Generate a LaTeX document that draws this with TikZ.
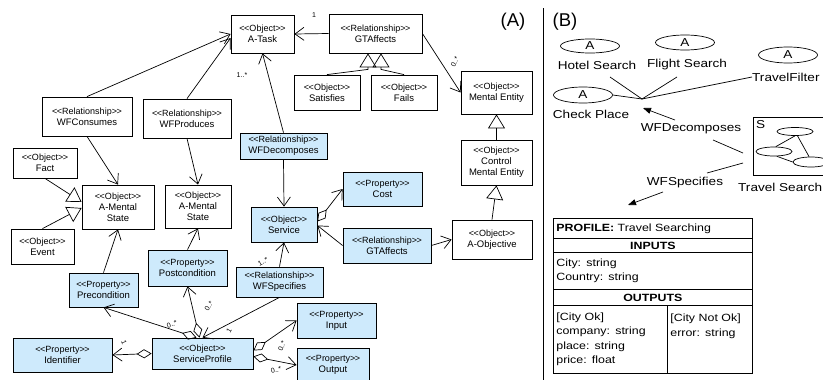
\documentclass[tikz,border=0pt]{standalone}
\usepackage{fontspec}
\setmainfont{Liberation Sans}
\newfontfamily\wfont[FakeStretch=1.18]{Liberation Sans}
\usetikzlibrary{arrows.meta,calc,shapes.geometric}

\definecolor{pfill}{RGB}{206,234,252}

% stereotype line of a UML class box
\newcommand{\stereo}[1]{{\fontsize{9}{10}\selectfont<\kern-.3pt<#1>\kern-.3pt>}}

\tikzset{
  x=1pt, y=-1pt,
  cls/.style={draw, line width=0.8pt, inner sep=0pt, align=center,
              font=\fontsize{9.5}{11}\selectfont},
  prop/.style={cls, fill=pfill},
  nav/.style={-{Straight Barb[length=9pt,width=13pt]}, line width=0.7pt},
  gen/.style={-{Triangle[open,length=14pt,width=17pt]}, line width=0.7pt},
  agg/.style={{Diamond[open,length=15pt,width=9pt]}-{Straight Barb[length=9pt,width=13pt]}, line width=0.7pt},
  mult/.style={font=\fontsize{7}{8}\selectfont, inner sep=0pt},
  title/.style={font=\fontsize{18.5}{20}\selectfont, inner sep=0pt},
  blab/.style={font=\wfont\fontsize{11.5}{13}\selectfont, inner sep=0pt},
  bell/.style={ellipse, draw, line width=0.7pt, inner sep=0pt, minimum width=59pt,
               font=\wfont\fontsize{11.5}{13}\selectfont},
  sell/.style={ellipse, draw, line width=0.7pt, inner sep=0pt, minimum width=36pt, minimum height=8pt},
  farrow/.style={-{Triangle[length=8pt,width=6pt]}, line width=0.7pt},
  cell/.style={draw, line width=0.8pt, anchor=north west, inner ysep=0pt, inner xsep=3pt,
               align=left, font=\wfont\fontsize{10.5}{14.3}\selectfont},
}

\begin{document}
\begin{tikzpicture}
\useasboundingbox (0,0) rectangle (823,380);

% ---------------- panel A: the UML model ----------------
\node[title] (ta) at (513,22) {(A)};
\draw[line width=0.8pt] (543,8) -- (543,380);

\node[cls, minimum width=63pt, minimum height=38pt] (atask) at (262.5,34) {\stereo{Object}\\A-Task};
\node[cls, minimum width=93pt, minimum height=39pt] (gta1) at (375.5,33.5) {\stereo{Relationship}\\GTAffects};
\node[cls, minimum width=66pt, minimum height=35pt] (sat) at (327,92.5) {\stereo{Object}\\Satisfies};
\node[cls, minimum width=66pt, minimum height=35pt] (fails) at (404,92.5) {\stereo{Object}\\Fails};
\node[cls, minimum width=71pt, minimum height=43pt] (me) at (496.5,92.5) {\stereo{Object}\\Mental Entity};
\node[cls, minimum width=71pt, minimum height=45pt] (ctl) at (496.5,162.5) {\stereo{Object}\\Control\\Mental Entity};
\node[cls, minimum width=80pt, minimum height=39pt] (aobj) at (492,239.5) {\stereo{Object}\\A-Objective};
\node[cls, minimum width=90pt, minimum height=39pt] (wfc) at (87,116.5) {\stereo{Relationship}\\WFConsumes};
\node[cls, minimum width=88pt, minimum height=39pt] (wfp) at (187,118.5) {\stereo{Relationship}\\WFProduces};
\node[cls, minimum width=64pt, minimum height=30pt] (fact) at (45,163) {\stereo{Object}\\Fact};
\node[cls, minimum width=63pt, minimum height=35pt] (event) at (42.5,246.5) {\stereo{Object}\\Event};
\node[cls, minimum width=72pt, minimum height=44pt] (am1) at (118,207) {\stereo{Object}\\A-Mental\\State};
\node[cls, minimum width=66pt, minimum height=43pt] (am2) at (198,206.5) {\stereo{Object}\\A-Mental\\State};
\node[prop, minimum width=87pt, minimum height=26pt] (wfd) at (283.5,146) {\stereo{Relationship}\\WFDecomposes};
\node[prop, minimum width=66pt, minimum height=35pt] (srv) at (284,224.5) {\stereo{Object}\\Service};
\node[prop, minimum width=79pt, minimum height=34pt] (cost) at (382.5,189) {\stereo{Property}\\Cost};
\node[prop, minimum width=88pt, minimum height=35pt] (gta2) at (387,245.5) {\stereo{Relationship}\\GTAffects};
\node[prop, minimum width=87pt, minimum height=30pt] (wfs) at (279.5,282) {\stereo{Relationship}\\WFSpecifies};
\node[prop, minimum width=101pt, minimum height=31pt] (sp) at (202.5,353.5) {\stereo{Object}\\ServiceProfile};
\node[prop, minimum width=99pt, minimum height=34pt] (id) at (62.5,355) {\stereo{Property}\\Identifier};
\node[prop, minimum width=69pt, minimum height=34pt] (pre) at (103.5,290) {\stereo{Property}\\Precondition};
\node[prop, minimum width=79pt, minimum height=36pt] (post) at (187.5,268) {\stereo{Property}\\Postcondition};
\node[prop, minimum width=79pt, minimum height=35pt] (input) at (336.5,320.5) {\stereo{Property}\\Input};
\node[prop, minimum width=72pt, minimum height=34pt] (output) at (333,365) {\stereo{Property}\\Output};

% navigable associations
\draw[nav] (gta1.west) -- (atask.east);
\draw[nav] (gta1.east) -- (me.west);
\draw[nav] (wfc.north) -- (atask.west);
\draw[nav] (wfp.north) -- ($(atask.west)+(0,4)$);
\draw[nav] (wfc.south) -- (am1.north);
\draw[nav] (wfp.south) -- (am2.north);
\draw[nav] (pre.north) -- (am1.south);
\draw[nav] (post.north) -- (am2.south);
\draw[nav] (wfd.north) -- (atask.south);
\draw[nav] (wfd.south) -- (srv.north);
\draw[nav] (wfs.north) -- (srv.south);
\draw[nav] (wfs.south) -- (sp.north);
\draw[nav] (gta2.west) -- ($(srv.east)+(0,1)$);
\draw[nav] (gta2.east) -- (aobj.west);

% generalizations
\draw[gen] (sat.north) -- ($(gta1.south)+(-7.5,16)$) -- ($(gta1.south)+(-7.5,0)$);
\draw[gen] (fails.north) -- ($(gta1.south)+(5.5,16)$) -- ($(gta1.south)+(5.5,0)$);
\draw[gen] (ctl.north) -- (me.south);
\draw[gen] (aobj.north) -- (ctl.south);
\draw[gen] (fact.south) -- ($(am1.west)+(0,-5)$);
\draw[gen] (event.north) -- ($(am1.west)+(0,1)$);

% aggregations
\draw[agg] ($(srv.east)+(0,-3)$) -- (cost.west);
\draw[agg] ($(sp.north)+(-6,0)$) -- (pre.south);
\draw[agg] ($(sp.north)+(-3,0)$) -- (post.south);
\draw[agg] ($(sp.east)+(0,-3)$) -- (input.west);
\draw[agg] ($(sp.east)+(0,3)$) -- (output.west);
\draw[agg] (sp.west) -- (id.east);

% multiplicities
\node[mult] (m1) at (314,15) {1};
\node[mult, rotate=65] (m2) at (455,62) {0..*};
\node[mult] (m3) at (242,75) {1..*};
\node[mult, rotate=30] (m4) at (263,262) {1..*};
\node[mult, rotate=60] (m5) at (229,331) {1};
\node[mult, rotate=20] (m6) at (172,324) {0..*};
\node[mult, rotate=60] (m7) at (209,306) {0..*};
\node[mult, rotate=70] (m8) at (282,346) {0..*};
\node[mult, rotate=15] (m9) at (276,370) {0..*};
\node[mult, rotate=-70] (m10) at (124,343) {1};

% ---------------- panel B: the workflow view ----------------
\node[title] (tb) at (565,22) {(B)};

\node[bell, minimum height=14pt] (hotelA) at (590,46) {A};
\node[bell, minimum height=15pt] (flightA) at (685,42.5) {A};
\node[bell, minimum height=16pt] (filterA) at (788,55) {A};
\node[bell, minimum height=16pt] (checkA) at (583,95) {A};
\node[blab] (hotelL) at (597,65) {Hotel Search};
\node[blab] (flightL) at (687,65) {Flight Search};
\node[blab, anchor=west] (filterL) at (752,77) {TravelFilter};
\node[blab] (checkL) at (591,114) {Check Place};

\coordinate (hub) at (642,99);
\coordinate (hs) at (610,77);
\coordinate (fs) at (677,77);
\draw[line width=0.7pt] (hs) -- (hub);
\draw[line width=0.7pt] (fs) -- (hub);
\draw[line width=0.7pt] (filterL.west) -- (hub);
\draw[line width=0.7pt] (checkA.east) -- (hub);

\node[blab] (wfdL) at (691,129) {WFDecomposes};
\coordinate (dsrc) at (675,120);
\coordinate (dtip) at (643,108);
\draw[farrow] (dsrc) -- (dtip);

\node[draw, line width=0.8pt, anchor=north west, inner sep=0pt, minimum width=82pt, minimum height=58pt] (tsbox) at (753,117) {};
\node[blab, anchor=north west] (sL) at (756,120) {S};
\node[sell] (e1) at (795,131.5) {};
\node[sell, minimum height=9pt] (e2) at (774,151.5) {};
\node[sell, minimum height=10pt] (e3) at (811,162) {};
\draw[line width=0.7pt] (e1.south) -- (e2.70);
\draw[line width=0.7pt] (e1.-60) -- (e3.110);
\draw[line width=0.7pt] (e2.-60) -- (e3.west);
\node[blab, anchor=west] (tsL) at (738,187) {Travel Search};

\coordinate (c1) at (713,140);
\coordinate (c2) at (743,153);
\draw[line width=0.7pt] (c1) -- (c2);
\coordinate (c3) at (743,163);
\coordinate (c4) at (707,173);
\draw[line width=0.7pt] (c3) -- (c4);
\node[blab] (wfsL) at (685,183) {WFSpecifies};
\coordinate (s1) at (663,192);
\coordinate (s2) at (628,205);
\draw[farrow] (s1) -- (s2);

% service profile table
\node[cell, minimum width=199pt, minimum height=20pt, text width=193pt] (prof) at (553,218) {\textbf{PROFILE:} Travel Searching};
\node[cell, minimum width=199pt, minimum height=14pt, text width=193pt, align=center] (inh) at (553,238) {\textbf{INPUTS}};
\node[cell, minimum width=199pt, minimum height=37pt, text width=193pt] (inb) at (553,252) {City: string\\Country: string};
\node[cell, minimum width=199pt, minimum height=16pt, text width=193pt, align=center] (outh) at (553,289) {\textbf{OUTPUTS}};
\node[cell, minimum width=114pt, minimum height=68pt, text width=108pt] (outa) at (553,305) {[City Ok]\\company: string\\place: string\\price: float};
\node[cell, minimum width=85pt, minimum height=68pt, text width=79pt] (outb) at (667,305) {[City Not Ok]\\error: string\\\mbox{}\\\mbox{}};

\end{tikzpicture}
\end{document}
